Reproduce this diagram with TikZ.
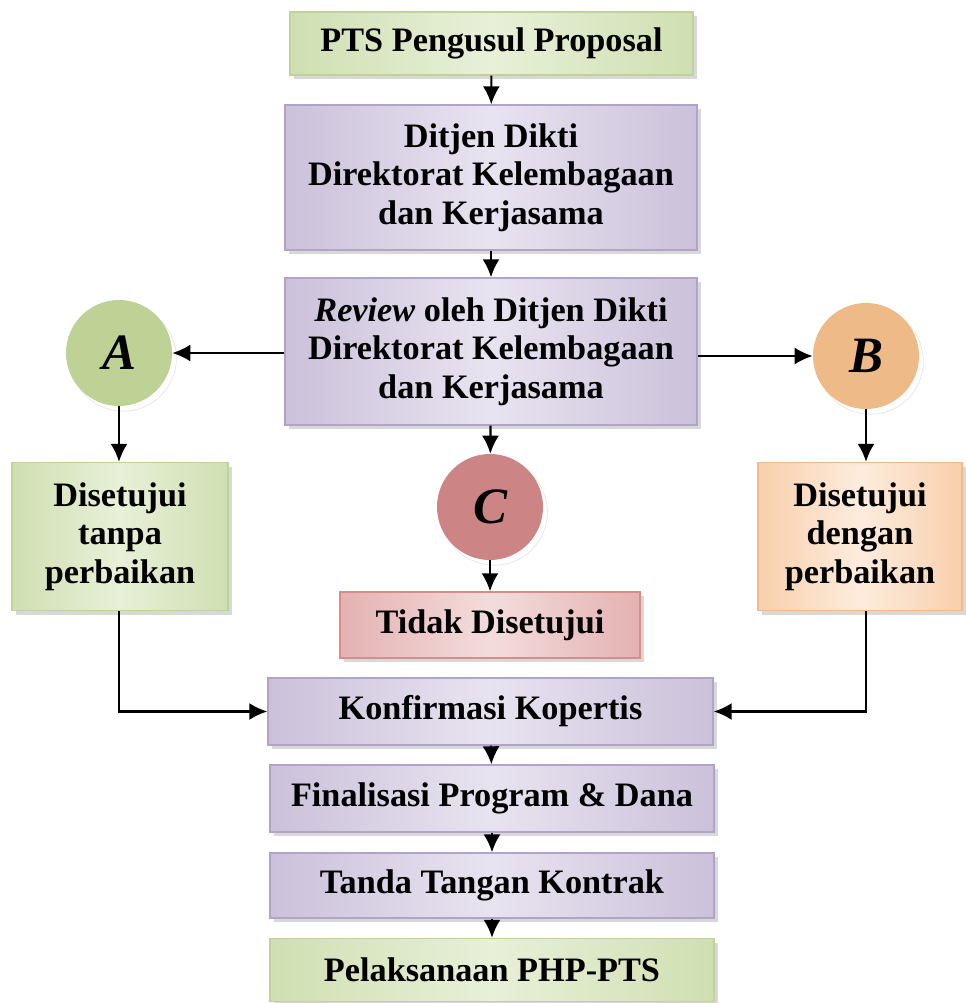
\documentclass[tikz,border=0pt]{standalone}
\usepackage{fontspec}
\setmainfont{Liberation Serif}
\usepackage{tikz}
\usetikzlibrary{arrows.meta,positioning,calc,shadows}

\definecolor{grnmid}{RGB}{208,223,178}
\definecolor{grnlight}{RGB}{232,240,216}
\definecolor{grnline}{RGB}{192,210,152}
\definecolor{purmid}{RGB}{203,193,218}
\definecolor{purlight}{RGB}{232,227,240}
\definecolor{purline}{RGB}{178,164,200}
\definecolor{ormid}{RGB}{248,208,172}
\definecolor{orlight}{RGB}{253,236,222}
\definecolor{orline}{RGB}{242,186,140}
\definecolor{redmid}{RGB}{228,178,178}
\definecolor{redlight}{RGB}{244,220,220}
\definecolor{redline}{RGB}{218,140,140}
\definecolor{circA}{RGB}{190,210,150}
\definecolor{circB}{RGB}{238,186,136}
\definecolor{circC}{RGB}{205,132,132}

\tikzset{
	box/.style={draw, line width=0.8pt, align=center, inner sep=4pt,
		font=\fontsize{19.5}{22}\selectfont\bfseries,
		drop shadow={shadow xshift=2.5pt, shadow yshift=-2.5pt, fill=gray!60}},
	greenbox/.style={box, draw=grnline, left color=grnmid, right color=grnmid, middle color=grnlight},
	purplebox/.style={box, draw=purline, left color=purmid, right color=purmid, middle color=purlight},
	orangebox/.style={box, draw=orline, left color=ormid, right color=ormid, middle color=orlight},
	redbox/.style={box, draw=redline, left color=redmid, right color=redmid, middle color=redlight},
	letter/.style={circle, minimum size=2.12cm, inner sep=0pt,
		font=\fontsize{29}{30}\selectfont\bfseries\itshape,
		drop shadow={shadow xshift=2.5pt, shadow yshift=-3pt, fill=white, draw=gray!40}},
	arrow/.style={-{Latex[length=3.6mm,width=3.4mm]}, line width=1.2pt}
}

\begin{document}
\begin{tikzpicture}
	\useasboundingbox (0,0) rectangle (19.3,-20.06);
	
	%% -- Main column, top
	\node[greenbox, minimum width=8.06cm, minimum height=1.26cm] (pts) at (9.83,-0.87)
	{PTS Pengusul Proposal};
	
	\node[purplebox, minimum width=8.24cm, minimum height=2.9cm] (ditjen) at (9.82,-3.55)
	{Ditjen Dikti\\Direktorat Kelembagaan\\dan Kerjasama};
	
	\node[purplebox, minimum width=8.24cm, minimum height=2.94cm] (review) at (9.82,-7.03)
	{\textit{Review} oleh Ditjen Dikti\\Direktorat Kelembagaan\\dan Kerjasama};
	
	%% -- The three outcomes
	\node[letter, fill=circA] (ca) at (2.38,-7.06) {A};
	\node[letter, fill=circB] (cb) at (17.32,-7.12) {B};
	\node[letter, fill=circC] (cc) at (9.80,-10.14) {C};
	
	\node[greenbox, minimum width=4.32cm, minimum height=2.96cm] (tanpa) at (2.40,-10.73)
	{Disetujui\\tanpa\\perbaikan};
	\node[orangebox, minimum width=4.08cm, minimum height=2.96cm] (dengan) at (17.20,-10.73)
	{Disetujui\\dengan\\perbaikan};
	\node[redbox, minimum width=6.0cm, minimum height=1.32cm] (tidak) at (9.80,-12.50)
	{Tidak Disetujui};
	
	%% -- Main column, bottom
	\node[purplebox, minimum width=8.9cm, minimum height=1.34cm] (konf) at (9.81,-14.23)
	{Konfirmasi Kopertis};
	\node[purplebox, minimum width=8.88cm, minimum height=1.34cm] (final) at (9.84,-15.97)
	{Finalisasi Program \& Dana};
	\node[purplebox, minimum width=8.88cm, minimum height=1.30cm] (ttd) at (9.84,-17.71)
	{Tanda Tangan Kontrak};
	\node[greenbox, minimum width=8.88cm, minimum height=1.26cm] (php) at (9.84,-19.40)
	{Pelaksanaan PHP-PTS};
	
	%% -- Arrows
	\draw[arrow] (pts) -- (ditjen);
	\draw[arrow] (ditjen) -- (review);
	\draw[arrow] (review.west |- ca) -- (ca);
	\draw[arrow] (review.east |- cb) -- (cb);
	\draw[arrow] (review) -- (cc);
	\draw[arrow] (ca) -- (ca |- tanpa.north);
	\draw[arrow] (cb) -- (cb |- dengan.north);
	\draw[arrow] (cc) -- (tidak);
	\draw[arrow] (tanpa.south -| ca) |- (konf.west);
	\draw[arrow] (dengan.south -| cb) |- (konf.east);
	\draw[arrow] (konf) -- (final);
	\draw[arrow] (final) -- (ttd);
	\draw[arrow] (ttd) -- (php);
	
\end{tikzpicture}
\end{document}
